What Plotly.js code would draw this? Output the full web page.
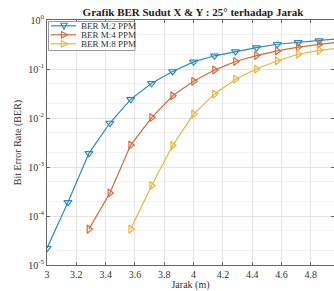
<!DOCTYPE html>
<html><head><meta charset="utf-8">
<script src="https://cdn.plot.ly/plotly-3.0.1.min.js"></script>
<style>html,body{margin:0;padding:0;overflow:hidden;background:#fff}</style>
</head><body><div id="chart" style="width:334px;height:291px"></div>
<script>
var xM2 = [3, 3.143, 3.286, 3.429, 3.571, 3.714, 3.857, 4, 4.143, 4.286, 4.429, 4.571, 4.714, 4.857, 5];
var yM2 = [2.2e-5, 1.9e-4, 1.9e-3, 7.9e-3, 2.4e-2, 5.1e-2, 8.9e-2, 0.14, 0.186, 0.227, 0.274, 0.32, 0.35, 0.38, 0.42];
var xM4 = [3.286, 3.429, 3.571, 3.714, 3.857, 4, 4.143, 4.286, 4.429, 4.571, 4.714, 4.857, 5];
var yM4 = [5.4e-5, 2.95e-4, 2.8e-3, 1.02e-2, 2.85e-2, 5.6e-2, 0.095, 0.142, 0.188, 0.234, 0.28, 0.32, 0.36];
var xM8 = [3.571, 3.714, 3.857, 4, 4.143, 4.286, 4.429, 4.571, 4.714, 4.857, 5];
var yM8 = [5.4e-5, 4.2e-4, 2.75e-3, 1.2e-2, 3.1e-2, 6.2e-2, 0.1, 0.147, 0.2, 0.24, 0.27];
var names = ['BER M:2 PPM', 'BER M:4 PPM', 'BER M:8 PPM'];
var colors = ['#2b8abf', '#d4693a', '#e8b53a'];
var symbols = ['triangle-down-open', 'triangle-right-open', 'triangle-right-open'];
var yTickVals = [1e-5, 1e-4, 1e-3, 1e-2, 1e-1, 1];
var yTickText = ['10<sup>-5</sup>', '10<sup>-4</sup>', '10<sup>-3</sup>', '10<sup>-2</sup>', '10<sup>-1</sup>', '10<sup>0</sup>'];
var xTickVals = [3, 3.2, 3.4, 3.6, 3.8, 4, 4.2, 4.4, 4.6, 4.8];

var M = {l: 47, r: 0, t: 20, b: 26}, W = 334, H = 291;
var PW = W - M.l - M.r, PH = H - M.t - M.b;
function px(x) { return (x - M.l) / PW; }
function py(y) { return 1 - (y - M.t) / PH; }

function tr(x, y, i) {
  return {x: x, y: y, name: names[i], type: 'scatter', mode: 'lines+markers', showlegend: false,
    line: {color: colors[i], width: 1.2},
    marker: {symbol: symbols[i], size: 7, color: colors[i], line: {color: colors[i], width: 1.2}}};
}
var data = [tr(xM2, yM2, 0), tr(xM4, yM4, 1), tr(xM8, yM8, 2)];

// compact MATLAB-style legend
var shapes = [{type: 'rect', xref: 'paper', yref: 'paper', x0: px(48.5), x1: px(135), y0: py(50.5), y1: py(21.5),
  fillcolor: '#fff', line: {color: '#999', width: 1}, layer: 'above'}];
var annotations = [];
var rowY = [25.8, 34.8, 43.8];
for (var i = 0; i < 3; i++) {
  var cy = rowY[i];
  shapes.push({type: 'line', xref: 'paper', yref: 'paper', x0: px(51), x1: px(76), y0: py(cy), y1: py(cy),
    line: {color: colors[i], width: 1.2}, layer: 'above'});
  var cx = 64, s = 3.2, path;
  if (i === 0) {
    path = 'M' + px(cx - s) + ',' + py(cy - s * 0.8) + ' L' + px(cx + s) + ',' + py(cy - s * 0.8) + ' L' + px(cx) + ',' + py(cy + s * 1.1) + ' Z';
  } else {
    path = 'M' + px(cx - s * 0.8) + ',' + py(cy - s) + ' L' + px(cx - s * 0.8) + ',' + py(cy + s) + ' L' + px(cx + s * 1.1) + ',' + py(cy) + ' Z';
  }
  shapes.push({type: 'path', xref: 'paper', yref: 'paper', path: path, fillcolor: 'rgba(255,255,255,0)',
    line: {color: colors[i], width: 1.1}, layer: 'above'});
  annotations.push({xref: 'paper', yref: 'paper', x: px(79), y: py(cy), xanchor: 'left', yanchor: 'middle',
    showarrow: false, text: names[i], font: {family: 'Liberation Serif', size: 9, color: '#333'}});
}

var axisCommon = {showline: true, linecolor: '#666', linewidth: 1, mirror: 'ticks', ticks: 'inside', ticklen: 3,
  tickcolor: '#666', gridcolor: '#e4e4e4', zeroline: false,
  tickfont: {family: 'Liberation Serif', size: 10, color: '#333'}};
var layout = {
  width: W, height: H, margin: M,
  paper_bgcolor: '#fff', plot_bgcolor: '#fff',
  title: {text: '<b>Grafik BER Sudut X & Y : 25° terhadap Jarak</b>', x: 0.578, xanchor: 'center', y: 1 - 12.5 / H, yanchor: 'middle',
    font: {family: 'Liberation Serif', size: 11, color: '#222'}},
  showlegend: false,
  shapes: shapes, annotations: annotations,
  xaxis: Object.assign({}, axisCommon, {range: [3, 4.958], tickvals: xTickVals, ticktext: xTickVals.map(String),
    title: {text: 'Jarak (m)', standoff: 2, font: {family: 'Liberation Serif', size: 10, color: '#333'}}}),
  yaxis: Object.assign({}, axisCommon, {type: 'log', range: [-5, 0], tickvals: yTickVals, ticktext: yTickText,
    minor: {showgrid: true, gridcolor: '#f2f2f2', ticks: ''},
    title: {text: 'Bit Error Rate (BER)', standoff: 4, font: {family: 'Liberation Serif', size: 10, color: '#333'}}})
};
Plotly.newPlot('chart', data, layout, {displayModeBar: false, staticPlot: true});
</script></body></html>
